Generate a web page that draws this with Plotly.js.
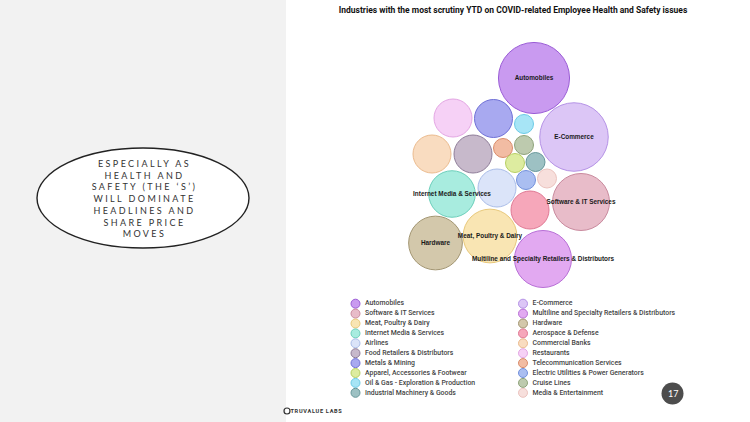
<!DOCTYPE html>
<html><head><meta charset="utf-8">
<script src="https://cdn.plot.ly/plotly-3.0.1.min.js"></script>
<style>
html,body{margin:0;padding:0;background:#fff;overflow:hidden;}
#chart{width:750px;height:422px;}
.annotation[data-index="0"] .annotation-text{letter-spacing:2.4px;}
.annotation[data-index="2"] .annotation-text{letter-spacing:0.7px;}
</style></head><body><div id="chart"></div>
<script>
// Industries, sorted by number of scrutiny mentions (bubble area)
const industries = [
  'Automobiles', 'E-Commerce', 'Software & IT Services',
  'Multiline and Specialty Retailers & Distributors', 'Meat, Poultry & Dairy', 'Hardware',
  'Internet Media & Services', 'Aerospace & Defense', 'Airlines', 'Commercial Banks',
  'Food Retailers & Distributors', 'Restaurants', 'Metals & Mining', 'Telecommunication Services',
  'Apparel, Accessories & Footwear', 'Electric Utilities & Power Generators',
  'Oil & Gas - Exploration & Production', 'Cruise Lines', 'Industrial Machinery & Goods',
  'Media & Entertainment'
];
const mentions = [14, 13, 9, 9, 8, 8, 6, 4, 4, 4, 4, 4, 4, 1, 1, 1, 1, 1, 1, 1];
// packed-bubble layout positions
const bubbleX = [534, 574, 581, 543, 490, 435.5, 452, 530, 497, 432, 473, 453, 493.5, 503, 515, 526, 524, 524, 535.5, 547];
const bubbleY = [78, 137, 202, 259, 236, 243, 194, 210, 188, 154, 154, 118, 118.5, 148, 163, 180, 124, 145, 162, 178.5];
const fillColors = ['#c99af0','#dcc6f6','#e8bcc9','#e2a9f1','#f9e5b3','#d3c8ab','#a8ecdf','#f6a7ba','#dbe4f9','#f9dcc0',
  '#c7b9cb','#f6d1f6','#a8a9f0','#f2bca3','#ddeca0','#aabef1','#a7e5f6','#bdcaae','#9dc1c3','#f7dfdc'];
const lineColors = ['#9a5cd6','#b592e6','#c98a9e','#b86fd6','#e8c87a','#a39672','#6ccfbb','#e07893','#aabde8','#ebbb8e',
  '#8f7d99','#e3a6e3','#6f70d6','#d98c6b','#b7cf62','#7391dc','#6ccbe6','#8ea37a','#66979a','#ebc3be'];
const labelMin = 6;

const bubbleLabels = industries.map((n, i) => mentions[i] >= labelMin ? n : '');

// two-column legend grid (row-major, like the original)
const legX0 = 355.5, legColGap = 167.5, legY0 = 303.7, legRowGap = 9.9;
const legX = industries.map((_, i) => legX0 + (i % 2) * legColGap);
const legY = industries.map((_, i) => legY0 + Math.floor(i / 2) * legRowGap);
const legTextX = legX.map(x => x + 9.5);

const traces = [
  {
    type: 'scatter', mode: 'markers+text', x: bubbleX, y: bubbleY,
    text: bubbleLabels, textposition: 'middle center',
    textfont: {family: 'Liberation Sans, Arial, sans-serif', size: 6.4, color: '#1a1a1a', weight: 700},
    marker: {size: mentions, sizemode: 'area', sizeref: 2 / 361, color: fillColors,
             line: {color: lineColors, width: 1}, opacity: 1},
    hovertext: industries, hoverinfo: 'text', showlegend: false, cliponaxis: false
  },
  {
    type: 'scatter', mode: 'markers', x: legX, y: legY,
    marker: {size: 9, color: fillColors, line: {color: lineColors, width: 1}},
    hoverinfo: 'skip', showlegend: false, cliponaxis: false
  },
  {
    type: 'scatter', mode: 'text', x: legTextX, y: legY, text: industries,
    textposition: 'middle right',
    textfont: {family: 'Roboto, sans-serif', size: 6.9, color: '#444', weight: 500},
    hoverinfo: 'skip', showlegend: false, cliponaxis: false
  }
];

const layout = {
  width: 750, height: 422,
  margin: {l: 0, r: 0, t: 0, b: 0, pad: 0},
  paper_bgcolor: '#ffffff', plot_bgcolor: 'rgba(0,0,0,0)',
  showlegend: false,
  title: {
    text: 'Industries with the most scrutiny YTD on COVID-related Employee Health and Safety issues',
    x: 513 / 750, xanchor: 'center', y: 1 - 10 / 422, yanchor: 'middle',
    font: {family: 'Roboto, sans-serif', size: 8.5, color: '#111', weight: 700}
  },
  xaxis: {range: [0, 750], visible: false, fixedrange: true},
  yaxis: {range: [422, 0], visible: false, fixedrange: true},
  shapes: [
    {type: 'rect', xref: 'x', yref: 'y', x0: 0, x1: 286, y0: 0, y1: 422, fillcolor: '#f2f2f2', line: {width: 0}, layer: 'below'},
    {type: 'circle', xref: 'x', yref: 'y', x0: 37, x1: 249, y0: 148, y1: 248, fillcolor: '#ffffff', line: {color: '#222', width: 1.4}, layer: 'below'},
    {type: 'circle', xref: 'x', yref: 'y', x0: 661.5, x1: 683.5, y0: 382.5, y1: 404.5, fillcolor: '#4d4d4d', line: {width: 0}, layer: 'below'},
    {type: 'circle', xref: 'x', yref: 'y', x0: 284, x1: 290, y0: 408, y1: 414, fillcolor: 'rgba(0,0,0,0)', line: {color: '#333', width: 1.2}, layer: 'below'}
  ],
  annotations: [
    {xref: 'x', yref: 'y', x: 144, y: 198.5, xanchor: 'center', yanchor: 'middle', align: 'center', showarrow: false,
     text: 'ESPECIALLY AS<br>HEALTH AND<br>SAFETY (THE ‘S’)<br>WILL DOMINATE<br>HEADLINES AND<br>SHARE PRICE<br>MOVES',
     font: {family: 'Lato, sans-serif', size: 9, color: '#333'}},
    {xref: 'x', yref: 'y', x: 672.5, y: 393.5, xanchor: 'center', yanchor: 'middle', showarrow: false,
     text: '17', font: {family: 'Lato, sans-serif', size: 9, color: '#ffffff'}},
    {xref: 'x', yref: 'y', x: 293, y: 411, xanchor: 'left', yanchor: 'middle', showarrow: false,
     text: 'TRUVALUE LABS', font: {family: 'Roboto, sans-serif', size: 5.6, color: '#333', weight: 700}}
  ]
};

Plotly.newPlot('chart', traces, layout, {displayModeBar: false, staticPlot: true});
</script></body></html>
